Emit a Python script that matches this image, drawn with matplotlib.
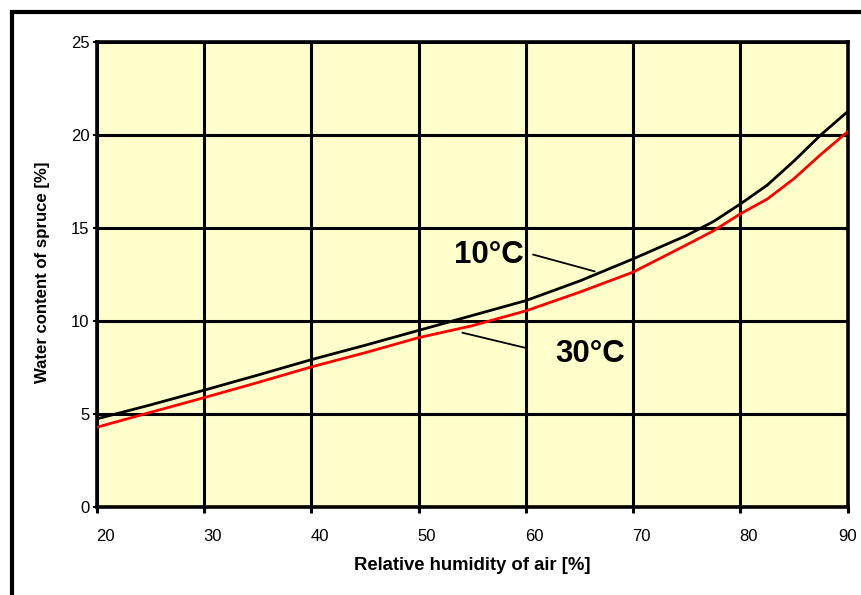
import matplotlib
matplotlib.use("Agg")
import matplotlib.pyplot as plt
from matplotlib.lines import Line2D
from matplotlib.transforms import ScaledTranslation

plt.rcParams['font.family'] = ['Liberation Sans', 'DejaVu Sans']

humidity = [20, 25, 30, 35, 40, 45, 50, 55, 60, 65, 70, 75, 77.5, 80, 82.5, 85, 87.5, 90]
water_10c = [4.75, 5.5, 6.29, 7.1, 7.93, 8.7, 9.5, 10.3, 11.1, 12.15, 13.34, 14.6, 15.35, 16.29, 17.3, 18.6, 20.0, 21.25]
water_30c = [4.3, 5.1, 5.89, 6.7, 7.54, 8.3, 9.11, 9.75, 10.55, 11.55, 12.63, 14.1, 14.85, 15.76, 16.55, 17.65, 18.95, 20.17]

x_ticks = [20, 30, 40, 50, 60, 70, 80, 90]
y_ticks = [0, 5, 10, 15, 20, 25]

fig = plt.figure(figsize=(8.61, 5.95), dpi=100)
ax = fig.add_axes([97/861, 1-507.3/595, (847.7-97)/861, (507.3-41.7)/595])
ax.set_facecolor('#FFFFCC')
ax.set_xlim(20, 90)
ax.set_ylim(0, 25)
ax.set_xticks(x_ticks)
ax.set_yticks(y_ticks)
ax.grid(True, color='black', linewidth=2.2, zorder=1)
ax.set_axisbelow(True)
for s in ax.spines.values():
    s.set_linewidth(2.6)
    s.set_zorder(3)

ax.plot(humidity, water_10c, color='black', linewidth=2.0, zorder=4)
ax.plot(humidity, water_30c, color='#FF0000', linewidth=2.0, zorder=4)

ax.tick_params(axis='x', direction='out', length=4.3, width=2.2, pad=11, labelsize=12)
ax.tick_params(axis='y', direction='out', length=3, width=1.5, pad=2.5, labelsize=12)

off = ScaledTranslation(8/100, 0, fig.dpi_scale_trans)
labels = ax.get_xticklabels()
for lab in labels[:-1]:
    lab.set_transform(lab.get_transform() + off)

ax.set_xlabel('Relative humidity of air [%]', fontsize=13.3, fontweight='bold', va='center')
ax.xaxis.set_label_coords(0.5, -0.124)
ax.set_ylabel('Water content of spruce [%]', fontsize=12.1, fontweight='bold', va='center')
ax.yaxis.set_label_coords(-0.072, 0.505)

ax.annotate('', xy=(66.65, 12.63), xytext=(60.41, 13.61),
            arrowprops=dict(arrowstyle='-', color='black', lw=1.3), zorder=5)
ax.text(59.75, 13.55, '10°C', fontsize=22.5, fontweight='bold', ha='right', va='center', zorder=5)
ax.annotate('', xy=(60.25, 8.52), xytext=(53.82, 9.41),
            arrowprops=dict(arrowstyle='-', color='black', lw=1.3), zorder=5)
ax.text(62.7, 8.25, '30°C', fontsize=22.5, fontweight='bold', ha='left', va='center', zorder=5)

# figure border (left and top)
fig.add_artist(Line2D([11.5/861, 11.5/861, 1.0], [0.0, 1-11.5/595, 1-11.5/595],
                      transform=fig.transFigure, color='black', linewidth=3.0,
                      solid_joinstyle='miter'))

fig.savefig('out.png', dpi=100)
